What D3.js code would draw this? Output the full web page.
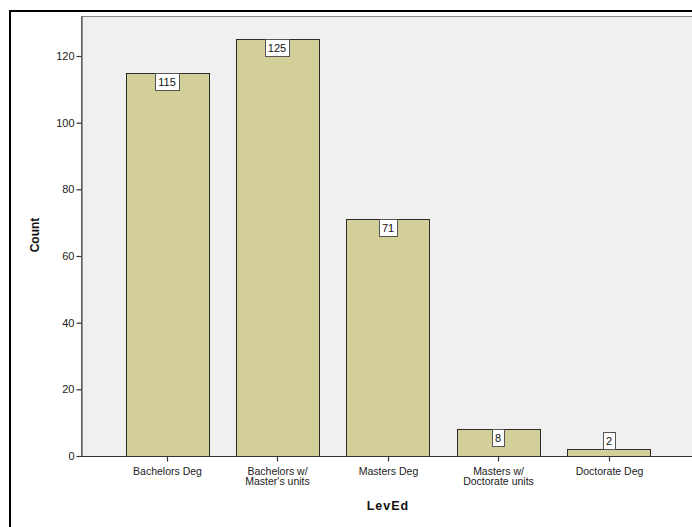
<!DOCTYPE html>
<html>
<head>
<meta charset="utf-8">
<script src="https://cdn.jsdelivr.net/npm/d3@7/dist/d3.min.js"></script>
<style>
  html, body { margin: 0; padding: 0; background: #fff; overflow: hidden; }
  svg { display: block; font-family: Arial, "Liberation Sans", sans-serif; }
</style>
</head>
<body>
<svg id="chart" width="692" height="527"></svg>
<script>
// Education level counts
const categories = [
  ["Bachelors Deg"],
  ["Bachelors w/", "Master's units"],
  ["Masters Deg"],
  ["Masters w/", "Doctorate units"],
  ["Doctorate Deg"]
];
const counts = [115, 125, 71, 8, 2];
const yTicks = [0, 20, 40, 60, 80, 100, 120];

const svg = d3.select("#chart");

// outer frame (right and bottom edges run off the page)
svg.append("rect").attr("x", 10).attr("y", 11).attr("width", 720).attr("height", 560)
  .attr("fill", "#fff").attr("stroke", "#000").attr("stroke-width", 2);

const plot = { left: 81, top: 16, right: 720, bottom: 456 };

const y = d3.scaleLinear().domain([0, 132]).range([plot.bottom, plot.top]);
const x = d3.scaleBand().domain(d3.range(counts.length))
  .range([125.6, 650.1]).paddingInner(0.25).paddingOuter(0);

svg.append("rect").attr("x", plot.left + 0.5).attr("y", plot.top + 0.5)
  .attr("width", plot.right - plot.left).attr("height", plot.bottom - plot.top)
  .attr("fill", "#f0f0f0").attr("stroke", "#888").attr("stroke-width", 1);

// y axis
const yAxis = svg.append("g").attr("transform", `translate(${plot.left + 0.5},0)`)
  .call(d3.axisLeft(y).tickValues(yTicks).tickSize(5).tickSizeOuter(0).tickPadding(2));
yAxis.select(".domain").attr("stroke", "#333");
yAxis.selectAll(".tick line").attr("stroke", "#333").attr("stroke-width", 1.2);
yAxis.selectAll(".tick text").attr("font-size", 11).attr("fill", "#222")
  .attr("font-family", "Arial, 'Liberation Sans', sans-serif");

// bars
svg.append("g").selectAll("rect").data(counts).join("rect")
  .attr("x", (d, i) => Math.round(x(i)) + 0.5)
  .attr("y", d => Math.round(y(d)) + 0.5)
  .attr("width", Math.round(x.bandwidth()))
  .attr("height", d => Math.round(y(0)) - Math.round(y(d)))
  .attr("fill", "#d3cf99").attr("stroke", "#2b2b2b").attr("stroke-width", 1);

// x axis
const xAxis = svg.append("g").attr("transform", `translate(0,${plot.bottom + 0.5})`);
xAxis.append("line").attr("x1", plot.left).attr("x2", plot.right)
  .attr("stroke", "#333").attr("stroke-width", 1.2);
const xt = xAxis.selectAll("g.xt").data(categories).join("g").attr("class", "xt")
  .attr("transform", (d, i) => `translate(${Math.round(x(i) + x.bandwidth() / 2) + 0.5},0)`);
xt.append("line").attr("y1", 0).attr("y2", 5).attr("stroke", "#333").attr("stroke-width", 1.2);
xt.append("text").attr("text-anchor", "middle").attr("font-size", 10.5).attr("fill", "#222")
  .selectAll("tspan").data(d => d).join("tspan")
  .attr("x", 0).attr("y", (d, j) => 18 + j * 10.5).text(d => d);

// value labels
const lab = svg.append("g").selectAll("g").data(counts).join("g");
lab.each(function (d, i) {
  const g = d3.select(this);
  const cx = Math.round(x(i) + x.bandwidth() / 2);
  const h = 17;
  const top = Math.round(y(0)) - Math.round(y(d)) >= h ? Math.round(y(d)) : Math.round(y(d)) - h;
  const t = g.append("text").attr("x", cx).attr("y", top + 13).attr("text-anchor", "middle")
    .attr("font-size", 11).attr("fill", "#111").text(d);
  const w = t.node().getComputedTextLength() + 6;
  g.insert("rect", "text").attr("x", Math.round(cx - w / 2) + 0.5).attr("y", top + 0.5)
    .attr("width", Math.round(w)).attr("height", h)
    .attr("fill", "#fff").attr("stroke", "#555").attr("stroke-width", 1);
});

// axis titles
svg.append("text").attr("transform", "translate(39,235) rotate(-90)")
  .attr("text-anchor", "middle").attr("font-size", 12).attr("font-weight", "bold")
  .attr("fill", "#111").text("Count");
svg.append("text").attr("x", 388).attr("y", 510).attr("text-anchor", "middle")
  .attr("font-size", 12.5).attr("font-weight", "bold").attr("letter-spacing", 1)
  .attr("fill", "#111").text("LevEd");
</script>
</body>
</html>
